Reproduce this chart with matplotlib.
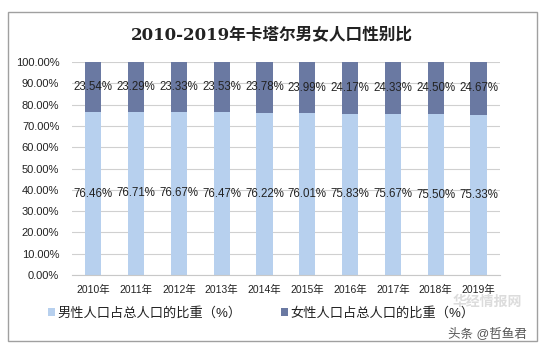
import numpy as np
import matplotlib.pyplot as plt
from matplotlib.patches import Rectangle

years = ["2010年", "2011年", "2012年", "2013年", "2014年",
         "2015年", "2016年", "2017年", "2018年", "2019年"]
male_share = [76.46, 76.71, 76.67, 76.47, 76.22, 76.01, 75.83, 75.67, 75.50, 75.33]
female_share = [23.54, 23.29, 23.33, 23.53, 23.78, 23.99, 24.17, 24.33, 24.50, 24.67]
yticks = [0, 10, 20, 30, 40, 50, 60, 70, 80, 90, 100]

male_label = "男性人口占总人口的比重（%）"
female_label = "女性人口占总人口的比重（%）"
title = "2010-2019年卡塔尔男女人口性别比"

plt.rcParams['font.family'] = ['Liberation Sans', 'Noto Sans CJK SC', 'DejaVu Sans']
male_color = "#b7d0ee"
female_color = "#6a79a2"

fig = plt.figure(figsize=(5.44, 3.49), dpi=100)
ax = fig.add_axes([0.132, 0.212, 0.787, 0.610])

x = np.arange(len(years))
w = 0.38
ax.bar(x, male_share, w, color=male_color, label=male_label, zorder=2)
ax.bar(x, female_share, w, bottom=male_share, color=female_color, label=female_label, zorder=2)

for i in range(len(years)):
    ax.text(x[i], male_share[i] / 2, f"{male_share[i]:.2f}%", ha='center', va='center',
            fontsize=8.3, color="#222222", zorder=3)
    ax.text(x[i], male_share[i] + female_share[i] / 2, f"{female_share[i]:.2f}%",
            ha='center', va='center', fontsize=8.3, color="#222222", zorder=3)

ax.set_xlim(-0.5, len(years) - 0.5)
ax.set_ylim(0, 100)
ax.set_yticks(yticks)
ax.set_yticklabels([f"{v:.2f}%" for v in yticks], fontsize=8)
ax.set_xticks(x)
ax.set_xticklabels(years, fontsize=7.5)
ax.tick_params(axis='y', length=0, pad=9, colors="#222222")
ax.tick_params(axis='x', length=0, pad=7, colors="#222222")
ax.yaxis.grid(True, color="#d0d0d0", linewidth=0.8, zorder=0)
for s in ['top', 'right', 'left']:
    ax.spines[s].set_visible(False)
ax.spines['bottom'].set_color("#c8c8c8")

fig.text(0.5, 0.9, title, ha='center', va='center', fontsize=12, fontweight='bold',
         family=['DejaVu Serif', 'Noto Sans CJK SC'], color="#222222")

leg = fig.legend(loc='center', bbox_to_anchor=(0.48, 0.103), ncol=2, frameon=False,
                 fontsize=9.5, handlelength=0.5, handleheight=0.5, handletextpad=0.2,
                 columnspacing=3.0)
for t in leg.get_texts():
    t.set_color("#222222")

# outer border
fig.patches.append(Rectangle((0.015, 0.022), 0.972, 0.943, transform=fig.transFigure,
                             fill=False, edgecolor="#a0a0a0", linewidth=1.0))

# watermarks
fig.text(0.895, 0.135, "华经情报网", ha='center', va='center', fontsize=10,
         color="#dcdcdc", fontweight='bold')
fig.text(0.895, 0.045, "头条 @哲鱼君", ha='center', va='center', fontsize=9,
         color="#555555")

fig.savefig("out.png", dpi=100)
